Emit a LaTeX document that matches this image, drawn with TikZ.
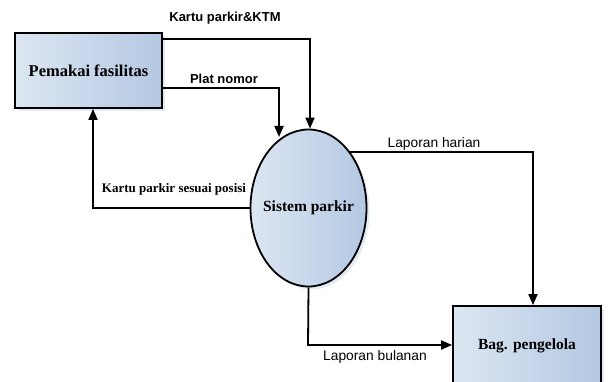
\documentclass[tikz,border=0pt]{standalone}
\usepackage{fontspec}
\setmainfont{Liberation Serif}
\setsansfont{Liberation Sans}
\usetikzlibrary{arrows.meta,shapes.geometric,shadows}
\definecolor{boxL}{HTML}{DCE6F2}
\definecolor{boxR}{HTML}{B4C8E2}
\tikzset{
  entity/.style={draw=black, line width=1.8pt, left color=boxL, right color=boxR,
    minimum width=147pt, minimum height=75pt, inner sep=0pt,
    font=\fontsize{15.5}{17}\selectfont\bfseries,
    drop shadow={shadow xshift=3pt, shadow yshift=-3pt, fill=boxR!60, opacity=0.6}},
  proc/.style={draw=black, line width=1.8pt, ellipse, left color=boxL, right color=boxR,
    minimum width=116pt, minimum height=157pt, inner xsep=-8pt, inner ysep=0pt,
    font=\fontsize{15.5}{17}\selectfont\bfseries,
    drop shadow={shadow xshift=3pt, shadow yshift=-3pt, fill=boxR!60, opacity=0.6}},
  flow/.style={line width=1.8pt, -{Triangle[length=11pt,width=9pt]}},
  lblsans/.style={font=\sffamily\bfseries\fontsize{13}{15}\selectfont, inner sep=0pt},
  lblsansr/.style={font=\sffamily\fontsize{13.8}{15}\selectfont, inner sep=0pt},
  lblserif/.style={font=\bfseries\fontsize{13}{15}\selectfont, inner sep=0pt}
}
\begin{document}
\begin{tikzpicture}[x=1pt,y=-1pt]
\useasboundingbox (0,0) rectangle (610,382);
\node[entity, font=\fontsize{16.5}{18}\selectfont\bfseries] (pf) at (88.5,70.5) {Pemakai fasilitas};
\node[proc] (sp) at (308.5,208) {Sistem parkir};
\node[entity, minimum width=148pt, minimum height=80pt] (bp) at (527,346) {Bag. pengelola};
% Kartu parkir&KTM
\coordinate (k1) at (310,39);
\draw[flow] (pf.east |- k1) -- (k1) -- (sp.north -| k1);
\node[lblsans] at (225,18) {Kartu parkir\&KTM};
% Plat nomor
\coordinate (p1) at (279,88);
\draw[flow] (pf.east |- p1) -- (p1) -- (279,137);
\node[lblsans] at (224,79) {Plat nomor};
% Laporan harian
\coordinate (h1) at (533,152);
\draw[flow] (349,152) -- (h1) -- (bp.north -| h1);
\node[lblsansr] at (434,144) {Laporan harian};
% Laporan bulanan
\coordinate (b1) at (308,345);
\draw[flow] (sp.south) -- (b1) -- (bp.west |- b1);
\node[lblsansr] at (375,357) {Laporan bulanan};
% Kartu parkir sesuai posisi
\coordinate (s1) at (93,208);
\draw[flow] (sp.west) -- (s1) -- (pf.south -| s1);
\node[lblserif] at (174,189) {Kartu parkir sesuai posisi};
\end{tikzpicture}
\end{document}
